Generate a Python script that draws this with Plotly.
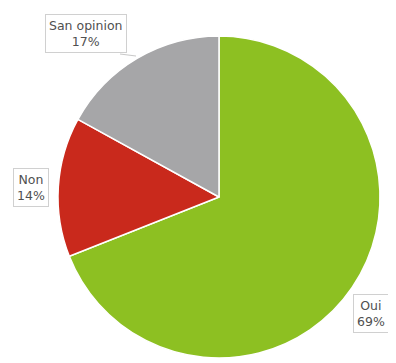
import plotly.graph_objects as go

labels = ["Oui", "Non", "San opinion"]
values = [69, 14, 17]
colors = ["#8DC022", "#C9291C", "#A6A6A8"]

OFF = 8  # page body margin
W, H = 396 - OFF, 363 - OFF


def px(x):
    return (x - OFF) / W


def py(y):
    return 1 - (y - OFF) / H


cx, cy, r = 219, 197, 161

fig = go.Figure()
fig.add_trace(go.Pie(
    labels=labels, values=values, sort=False, direction="clockwise", rotation=0,
    marker=dict(colors=colors, line=dict(color="white", width=1.5)),
    textinfo="none", hoverinfo="label+percent", showlegend=False,
    domain=dict(x=[px(cx - r), px(cx + r)], y=[max(0, py(cy + r)), py(cy - r)]),
))

# label boxes (pixel centres in the screenshot)
label_pos = {"San opinion": (86, 33), "Non": (31, 187), "Oui": (371, 313)}
total = sum(values)
for lab, v in zip(labels, values):
    x0, y0 = label_pos[lab]
    fig.add_annotation(
        x=px(x0), y=py(y0), xref="paper", yref="paper",
        xanchor="center", yanchor="middle",
        text=f"{lab}<br>{round(100 * v / total)}%", showarrow=False,
        font=dict(family="DejaVu Sans", size=12.5, color="#505050"),
        bordercolor="#D0D0D0", borderwidth=1, borderpad=3, bgcolor="white",
        align="center",
    )

# leader line for San opinion
fig.add_shape(type="line", xref="paper", yref="paper",
              x0=px(120), y0=py(54), x1=px(136), y1=py(56),
              line=dict(color="#C8C8C8", width=1))

fig.update_layout(width=W, height=H, margin=dict(l=0, r=0, t=0, b=0),
                  paper_bgcolor="white", plot_bgcolor="white")
fig.write_html("out.html")
